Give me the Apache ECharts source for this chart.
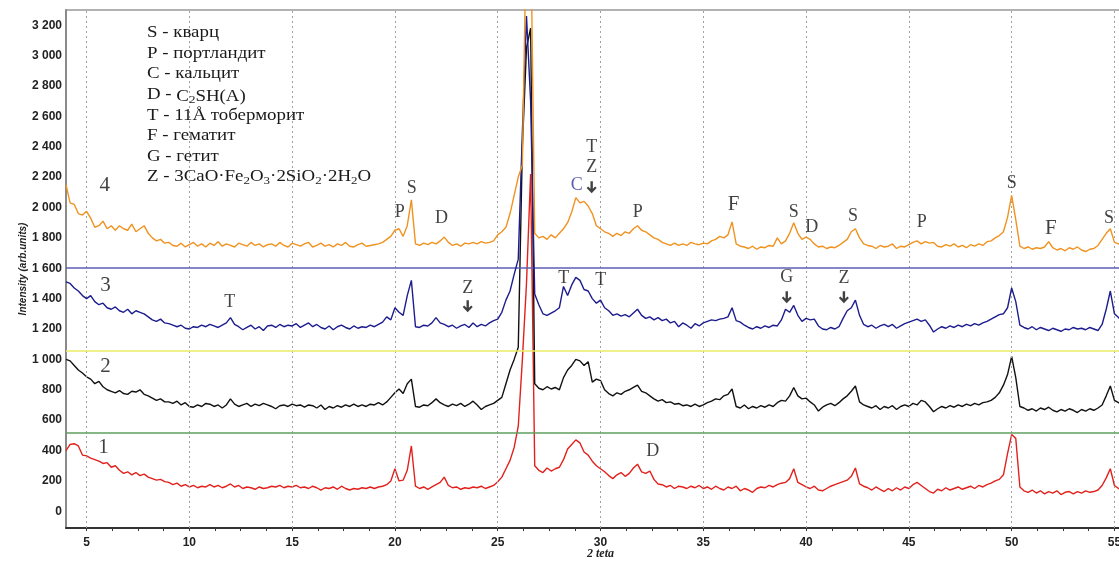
<!DOCTYPE html>
<html>
<head>
<meta charset="utf-8">
<script src="https://cdn.jsdelivr.net/npm/echarts@6/dist/echarts.min.js"></script>
<style>
html,body{margin:0;padding:0;background:#fff;}
#c{width:1119px;height:562px;}
</style>
</head>
<body>
<div id="c"></div>
<script>
// 2θ sampling grid: start and step (degrees)
const xStart = 4.0;
const xStep = 0.2;

// Curve 4 (orange)
const s4 = [
2150,2030,2020,1960,1950,1975,1930,1870,1880,1910,1860,1880,1850,1880,1860,1850,1890,1840,1860,1880,1830,1800,1780,1790,1765,
1770,1750,1745,1765,1740,1755,1770,1745,1760,1740,1765,1750,1775,1745,1760,1750,1740,1765,1755,1745,1770,1750,1760,1740,1755,
1760,1745,1770,1750,1740,1765,1755,1745,1760,1770,1740,1750,1765,1745,1755,1740,1760,1750,1770,1745,1740,1755,1765,1745,1750,
1755,1760,1770,1790,1810,1850,1860,1810,1880,2050,1760,1750,1765,1755,1770,1760,1780,1805,1770,1750,1760,1745,1765,1760,1770,
1760,1775,1765,1770,1780,1820,1840,1870,1960,2080,2200,2280,3900,3900,1830,1800,1810,1790,1820,1800,1830,1860,1900,1970,2065,
2030,2040,2010,1960,1880,1860,1840,1830,1810,1830,1815,1840,1830,1860,1880,1850,1840,1820,1800,1790,1770,1760,1750,1765,1750,
1760,1750,1770,1760,1755,1765,1760,1780,1790,1810,1800,1820,1905,1760,1745,1740,1730,1745,1725,1740,1735,1750,1745,1800,1760,
1780,1830,1900,1830,1790,1805,1790,1760,1740,1745,1730,1740,1735,1750,1770,1790,1840,1860,1800,1760,1750,1745,1730,1750,1740,
1745,1760,1730,1745,1740,1755,1770,1780,1760,1775,1765,1770,1745,1740,1755,1745,1760,1740,1750,1735,1755,1745,1760,1750,1775,
1780,1800,1815,1840,1935,2080,1920,1745,1730,1740,1725,1735,1730,1740,1775,1735,1720,1730,1715,1735,1725,1740,1720,1710,1725,
1730,1750,1790,1830,1860,1770,1760,1750,1745,1750,1740
];
// Curve 3 (dark blue)
const s3 = [
1510,1500,1470,1450,1420,1400,1420,1380,1360,1370,1340,1330,1345,1320,1310,1330,1300,1320,1310,1300,1280,1260,1250,1265,1240,
1235,1225,1215,1225,1205,1200,1215,1210,1225,1215,1230,1220,1210,1225,1240,1275,1230,1215,1195,1210,1225,1200,1215,1190,1220,
1225,1210,1230,1215,1225,1220,1235,1210,1225,1240,1215,1230,1210,1200,1220,1195,1215,1225,1210,1200,1220,1205,1215,1210,1225,
1215,1230,1245,1280,1260,1340,1310,1290,1420,1520,1215,1210,1225,1220,1240,1275,1240,1230,1215,1225,1205,1220,1230,1210,1240,
1215,1230,1220,1240,1255,1265,1310,1390,1450,1560,1660,2500,3260,2700,1430,1360,1300,1290,1305,1320,1340,1480,1420,1490,1540,
1520,1460,1450,1400,1370,1390,1340,1320,1290,1300,1285,1295,1280,1305,1330,1290,1270,1280,1260,1275,1255,1265,1240,1250,1215,
1240,1225,1205,1235,1220,1240,1250,1260,1255,1265,1270,1280,1340,1255,1245,1225,1210,1200,1215,1205,1220,1210,1225,1220,1260,
1330,1310,1355,1290,1250,1270,1260,1265,1220,1200,1195,1210,1200,1215,1270,1320,1340,1390,1290,1230,1215,1225,1205,1220,1230,
1215,1230,1205,1220,1235,1245,1255,1265,1250,1260,1225,1180,1200,1215,1205,1220,1210,1225,1215,1230,1220,1235,1225,1240,1250,
1265,1280,1295,1300,1340,1470,1380,1225,1210,1200,1215,1195,1210,1200,1190,1205,1195,1185,1200,1195,1210,1200,1205,1195,1210,
1200,1190,1230,1330,1450,1300,1275,1240,1230,1235,1225
];
// Curve 2 (black)
const s2 = [
1000,990,960,930,910,885,870,840,855,820,800,790,780,795,775,770,790,785,800,770,760,745,730,740,720,
720,710,725,700,715,690,685,700,690,710,705,690,700,680,700,740,705,690,700,710,690,705,695,710,700,
690,675,695,700,690,705,695,700,685,700,695,680,700,670,690,680,695,685,700,690,705,690,700,690,705,
700,715,700,720,750,780,805,775,840,870,690,685,700,695,715,740,715,700,690,705,695,710,690,705,725,
700,670,690,700,710,730,750,840,930,1000,1080,2400,3050,3180,840,810,800,820,805,815,800,880,930,960,1000,
990,960,985,850,870,860,800,775,760,780,770,790,800,815,830,790,780,760,740,725,735,715,720,705,710,
695,700,690,705,690,700,715,725,740,735,760,770,805,690,680,700,675,690,680,695,685,700,690,715,730,
725,760,815,760,740,745,720,700,660,685,700,710,695,715,740,760,790,825,720,700,690,680,695,670,690,
680,695,670,690,700,690,710,700,730,720,690,655,675,690,680,695,685,700,690,705,695,710,700,715,720,
730,750,780,830,900,1020,880,690,680,665,675,660,680,670,685,665,655,670,660,675,665,650,670,660,675,
665,680,700,760,825,730,715,700,690,695,685
];
// Curve 1 (red)
const s1 = [
400,440,445,430,370,365,350,340,330,315,320,290,300,270,250,260,240,255,235,245,225,215,205,210,195,
190,175,185,165,175,160,170,155,165,160,175,160,170,155,165,180,160,170,150,160,155,145,160,150,155,
165,160,170,155,165,160,170,155,160,150,165,155,140,155,150,160,145,165,150,140,150,145,155,150,160,
150,160,165,175,200,280,200,205,270,430,165,150,160,145,160,175,190,225,170,155,160,145,155,150,160,
155,165,150,160,170,195,225,280,335,420,560,1000,1500,2220,300,270,255,285,265,280,290,340,410,440,470,
450,390,370,330,300,280,260,235,215,240,255,230,250,285,310,260,250,265,210,180,175,160,170,150,165,
160,150,165,155,170,150,160,145,165,150,140,160,150,165,135,150,140,125,150,160,155,170,160,175,185,
190,215,280,190,175,160,150,165,140,135,150,165,175,185,195,205,230,285,180,165,155,140,160,145,130,
150,135,155,140,160,150,175,190,170,150,130,120,145,135,155,140,150,160,145,155,165,150,170,160,175,
185,200,210,240,380,505,480,160,135,125,140,120,135,115,130,120,135,110,125,130,115,130,120,135,125,
130,140,170,220,280,170,150,140,135,140,130
];

// Axis ticks
const xTickLabels = [5,10,15,20,25,30,35,40,45,50,55];
const xMinorTicks = [5,6.25,7.5,8.75,10,11.25,12.5,13.75,15,16.25,17.5,18.75,20,21.25,22.5,23.75,25,26.25,27.5,28.75,30,31.25,32.5,33.75,35,36.25,37.5,38.75,40,41.25,42.5,43.75,45,46.25,47.5,48.75,50,51.25,52.5,53.75,55];
const yTickLabels = [0,200,400,600,800,1000,1200,1400,1600,1800,2000,2200,2400,2600,2800,3000,3200];
// Separator lines between the curves
const sepValues = [1600, 1060, 520];

// Peak annotations (letters)
const annText = ['4','P','S','D','C','T','Z','P','F','S','D','S','P','S','F','S','3','T','Z','T','T','G','Z','2','1','D'];
const annX = [5.88,20.23,20.82,22.27,28.84,29.57,29.57,31.81,36.48,39.40,40.28,42.28,45.63,50.01,51.91,54.73,5.92,11.96,23.54,28.21,30.01,39.06,41.84,5.92,5.83,32.54];
const annY = [2146,1968,2126,1929,2146,2396,2265,1968,2021,1968,1870,1942,1903,2159,1863,1929,1488,1376,1468,1534,1521,1540,1534,955,421,395];
// Arrow markers
const arrowX = [29.57, 23.54, 39.06, 41.84];
const arrowY = [2133, 1350, 1409, 1409];

const legendLines = [
  '{n|S - кварц}',
  '{n|P - портландит}',
  '{n|C - кальцит}',
  '{n|D - }{d|C}{ds|2}{d|SH(A)}',
  '{n|T - 11Å тоберморит}',
  '{n|F - гематит}',
  '{n|G - гетит}',
  '{n|Z - 3CaO·Fe}{s|2}{n|O}{s|3}{n|·2SiO}{s|2}{n|·2H}{s|2}{n|O}'
];

const twoTheta = s1.map((_, i) => Math.round((xStart + xStep * i) * 10) / 10);
const pairs = ys => ys.map((v, i) => [twoTheta[i], v]);

const chart = echarts.init(document.getElementById('c'), null, {renderer: 'canvas'});

function fmtY(v) {
  v = Math.round(v);
  if (v >= 1000) { const s = String(v); return s.slice(0, s.length - 3) + ' ' + s.slice(-3); }
  return String(v);
}

const serif = "'Liberation Serif','DejaVu Serif',serif";
const annData = annText.map((t, i) => {
  const isNum = /[1-4]/.test(t);
  const isF = t === 'F';
  return {
    value: [annX[i], annY[i]],
    label: {
      show: true,
      formatter: t,
      position: 'inside',
      color: t === 'C' ? '#34349a' : '#111',
      fontFamily: serif,
      fontSize: isNum ? 21 : (isF ? 21 : 18)
    }
  };
});
const arrowData = arrowX.map((x, i) => [x, arrowY[i]]);

const vGrid = xTickLabels.map(v => ({xAxis: v}));
const hSeps = sepValues.map((v, i) => ({
  yAxis: v,
  lineStyle: {color: ['#5c5cb4', '#ecec66', '#5f9e5f'][i], width: 1.5, type: 'solid'}
}));

chart.setOption({
  animation: false,
  backgroundColor: '#fff',
  grid: {left: 66, top: 10, width: 1069, height: 518, outerBoundsMode: 'none', containLabel: false, show: true, borderColor: '#999', borderWidth: 1.5, backgroundColor: 'transparent'},
  xAxis: {
    type: 'value', min: 4, max: 56,
    name: '2 teta', nameLocation: 'middle', nameGap: 20, nameMoveOverlap: false,
    nameTextStyle: {fontFamily: "'Liberation Serif',serif", fontStyle: 'italic', fontWeight: 'bold', fontSize: 12, color: '#222'},
    axisLine: {show: true, onZero: false, lineStyle: {color: '#333', width: 2}},
    axisTick: {show: true, customValues: xMinorTicks, length: 3, lineStyle: {color: '#333', width: 1}},
    axisLabel: {customValues: xTickLabels, margin: 9, fontFamily: "'Liberation Sans',Arial,sans-serif", fontWeight: 'bold', fontSize: 12, color: '#222'},
    splitLine: {show: false}
  },
  yAxis: {
    type: 'value', min: -110, max: 3300,
    name: 'Intensity (arb.units)', nameLocation: 'middle', nameGap: 38, nameMoveOverlap: false,
    nameTextStyle: {fontFamily: "'Liberation Sans',Arial,sans-serif", fontStyle: 'italic', fontWeight: 'bold', fontSize: 10, color: '#222'},
    axisLine: {show: true, lineStyle: {color: '#8a8a8a', width: 2}},
    axisTick: {show: false},
    axisLabel: {customValues: yTickLabels, formatter: fmtY, margin: 4, fontFamily: "'Liberation Sans',Arial,sans-serif", fontWeight: 'bold', fontSize: 12, color: '#222'},
    splitLine: {show: false}
  },
  series: [
    {
      name: 'guides', type: 'line', data: [[4, -500]], showSymbol: false, silent: true, z: 1,
      lineStyle: {opacity: 0},
      markLine: {
        silent: true, symbol: 'none', animation: false, label: {show: false},
        lineStyle: {color: '#a0a0a0', type: [2, 3], width: 1},
        data: vGrid.concat(hSeps)
      }
    },
    {name: '1', type: 'line', data: pairs(s1), showSymbol: false, z: 3, lineStyle: {color: '#e2211c', width: 1.4}, itemStyle: {color: '#e2211c'}},
    {name: '2', type: 'line', data: pairs(s2), showSymbol: false, z: 4, lineStyle: {color: '#111', width: 1.4}, itemStyle: {color: '#111'}},
    {name: '3', type: 'line', data: pairs(s3), showSymbol: false, z: 5, lineStyle: {color: '#1c1c8e', width: 1.4}, itemStyle: {color: '#1c1c8e'}},
    {name: '4', type: 'line', data: pairs(s4), showSymbol: false, z: 6, lineStyle: {color: '#f0921f', width: 1.4}, itemStyle: {color: '#f0921f'}},
    {name: 'ann', type: 'scatter', data: annData, symbolSize: 1, itemStyle: {color: 'rgba(0,0,0,0)'}, silent: true, z: 7},
    {name: 'arrows', type: 'scatter', data: arrowData, silent: true, z: 7,
      symbol: 'path://M3.8,0 L6.2,0 L6.2,7.6 L8.5,5.3 L10,6.8 L5,12 L0,6.8 L1.5,5.3 L3.8,7.6 Z',
      symbolSize: [10, 12], itemStyle: {color: '#111'}}
  ],
  graphic: [{
    type: 'text', left: 147, top: 25, z: 10, scaleX: 1.18,
    style: {
      text: legendLines.join('\n'),
      fill: '#1a1a1a',
      font: "16px 'Liberation Serif',serif",
      rich: {
        n: {fontFamily: "'Liberation Serif',serif", fontSize: 16, lineHeight: 20.6, fill: '#1a1a1a'},
        s: {fontFamily: "'Liberation Serif',serif", fontSize: 11, lineHeight: 20.6, padding: [7, 0, 0, 0], fill: '#1a1a1a'},
        d: {fontFamily: "'Liberation Serif',serif", fontSize: 16, lineHeight: 20.6, padding: [4, 0, 0, 0], fill: '#1a1a1a'},
        ds: {fontFamily: "'Liberation Serif',serif", fontSize: 11, lineHeight: 20.6, padding: [10, 0, 0, 0], fill: '#1a1a1a'}
      }
    }
  }]
});
</script>
</body>
</html>
